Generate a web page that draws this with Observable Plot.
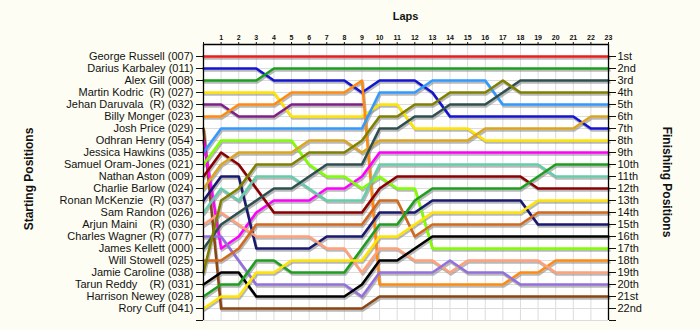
<!DOCTYPE html>
<html><head><meta charset="utf-8">
<script src="https://cdn.jsdelivr.net/npm/d3@7"></script>
<script src="https://cdn.jsdelivr.net/npm/@observablehq/plot@0.6"></script>
<style>
html,body{margin:0;padding:0;background:#fdfdf3;}
#chart svg text{white-space:pre;}
</style></head><body><div id="chart"></div>
<script>
const laps = [0,1,2,3,4,5,6,7,8,9,10,11,12,13,14,15,16,17,18,19,20,21,22,23];
const lapLabels = [1,2,3,4,5,6,7,8,9,10,11,12,13,14,15,16,17,18,19,20,21,22,23];
const posTicks = [1,2,3,4,5,6,7,8,9,10,11,12,13,14,15,16,17,18,19,20,21,22,23];
const finishLabels = ["1st","2nd","3rd","4th","5th","6th","7th","8th","9th","10th","11th","12th","13th","14th","15th","16th","17th","18th","19th","20th","21st","22nd"];
const startNames = ["George Russell (007)","Darius Karbaley (011)","Alex Gill (008)","Martin Kodric  (R) (027)","Jehan Daruvala  (R) (032)","Billy Monger (023)","Josh Price (029)","Odhran Henry (054)","Jessica Hawkins (035)","Samuel Oram-Jones (021)","Nathan Aston (009)","Charlie Barlow (024)","Ronan McKenzie  (R) (037)","Sam Randon (026)","Arjun Maini    (R) (030)","Charles Wagner (R) (077)","James Kellett (000)","Will Stowell (025)","Jamie Caroline (038)","Tarun Reddy    (R) (031)","Harrison Newey (028)","Rory Cuff (041)"];
const colors = ["#ee1c1c","#1414d2","#1e9e1e","#ffe400","#801f88","#ff8a10","#8b4513","#ff00ff","#3399ff","#80ff00","#8b0000","#daa520","#191970","#66cdaa","#ffa07a","#9370db","#2f4f4f","#d2691e","#808000","#000000","#1e9e1e","#ffe400"];

const russell  = [1,1,1,1,1,1,1,1,1,1,1,1,1,1,1,1,1,1,1,1,1,1,1,1];
const karbaley = [2,2,2,2,3,3,3,3,3,4,3,3,3,4,6,6,6,6,6,6,6,6,7,7];
const gill     = [3,3,3,3,2,2,2,2,2,2,2,2,2,2,2,2,2,2,2,2,2,2,2,2];
const kodric   = [4,4,4,4,4,6,6,6,6,6,5,5,7,7,7,7,8,8,8,8,8,8,8,8];
const daruvala = [5,5,6,6,6,5,5,5,5,5];
const monger   = [6,6,5,5,5,4,4,4,4,3,20,20,20,20,20,20,20,20,19,19,18,18,18,18];
const price    = [7,22,22,22,22,22,22,22,22,22,21,21,21,21,21,21,21,21,21,21,21,21,21,21];
const henry    = [8,17,16,14,13,13,13,12,12,11,9,9,9,9,9,9,9,9,9,9,9,9,9,9];
const hawkins  = [9,7,7,7,7,7,7,7,7,7,4,4,4,3,3,3,3,5,5,5,5,5,5,5];
const oramJones= [10,8,8,8,8,8,10,11,11,12,11,12,12,17,17,17,17,17,17,17,17,17,17,17];
const aston    = [11,9,10,12,14,14,14,14,14,14,12,11,11,11,11,11,11,11,11,12,12,12,12,12];
const barlow   = [12,10,9,9,9,9,8,8,8,9,8,8,8,8,8,8,7,7,7,7,7,7,6,6];
const mckenzie = [13,11,11,17,17,17,17,16,16,16,14,14,14,13,13,13,13,13,13,15,15,15,15,15];
const randon   = [14,12,13,11,11,11,12,13,13,13,10,10,10,10,10,10,10,10,10,10,11,11,11,11];
const maini    = [15,14,15,16,16,16,16,17,17,19,17,17,18,18,19,18,18,18,18,18,19,19,19,19];
const wagner   = [16,16,18,20,20,20,20,20,20,21,19,19,19,19,18,19,19,19,20,20,20,20,20,20];
const kellett  = [17,15,14,13,12,12,11,10,10,10,7,7,6,6,5,5,5,4,3,3,3,3,3,3];
const stowell  = [18,18,17,15,15,15,15,15,15,15,13,13,16,15,15,15,15,15,15,14,14,14,14,14];
const caroline = [19,13,12,10,10,10,9,9,9,8,6,6,5,5,4,4,4,3,4,4,4,4,4,4];
const reddy    = [20,19,19,21,21,21,21,21,21,20,18,18,17,16,16,16,16,16,16,16,16,16,16,16];
const newey    = [21,20,20,18,18,19,19,19,19,17,15,15,13,12,12,12,12,12,12,11,10,10,10,10];
const cuff     = [22,21,21,19,19,18,18,18,18,18,16,16,15,14,14,14,14,14,14,13,13,13,13,13];

const series = [russell,karbaley,gill,kodric,daruvala,monger,price,henry,hawkins,oramJones,aston,barlow,mckenzie,randon,maini,wagner,kellett,stowell,caroline,reddy,newey,cuff];

const rows = [];
series.forEach((s, i) => s.forEach((p, j) => rows.push({driver: startNames[i], lap: laps[j], pos: p, color: colors[i]})));

const font = "'Liberation Sans', Arial, Helvetica, sans-serif";
const yMax = posTicks[posTicks.length - 1];
const chart = Plot.plot({
  width: 700, height: 330,
  marginLeft: 203, marginRight: 92, marginTop: 44, marginBottom: 10,
  style: {background: "transparent", fontFamily: font, overflow: "visible", color: "#111"},
  x: {domain: [laps[0], laps[laps.length - 1]]},
  y: {domain: [0, yMax], reverse: true},
  color: {type: "identity"},
  marks: [
    Plot.frame({fill: "white", stroke: null}),
    Plot.gridX(lapLabels, {stroke: "#dcdcdc", strokeOpacity: 1}),
    Plot.gridY(posTicks, {stroke: "#dcdcdc", strokeOpacity: 1}),
    Plot.line(rows, {x: "lap", y: "pos", z: "driver", stroke: "#8a8a8a", strokeWidth: 2.6, dx: 1, dy: 2, strokeOpacity: 0.6}),
    Plot.line(rows, {x: "lap", y: "pos", z: "driver", stroke: "color", strokeWidth: 2.6}),
    Plot.ruleX([laps[0], laps[laps.length - 1]], {stroke: "#000", strokeWidth: 1.3}),
    Plot.ruleY([0], {stroke: "#000", strokeWidth: 1.3}),
    Plot.axisX([laps[0], ...lapLabels], {anchor: "top", tickSize: 3, tickPadding: 2, fontSize: 7, fontWeight: "bold", label: null, tickFormat: d => d === 0 ? "" : d}),
    Plot.axisY(posTicks, {anchor: "left", tickSize: 7, tickPadding: 3, fontSize: 11, label: null, tickFormat: d => startNames[d - 1] ?? ""}),
    Plot.axisY(posTicks, {anchor: "right", tickSize: 7, tickPadding: 2, fontSize: 11, label: null, tickFormat: d => finishLabels[d - 1] ?? ""})
  ]
});
document.getElementById("chart").appendChild(chart);

const sx = chart.scale("x"), sy = chart.scale("y");
const svg = d3.select(chart);
const xMid = (sx.apply(laps[0]) + sx.apply(laps[laps.length - 1])) / 2;
const yMid = (sy.apply(0) + sy.apply(yMax)) / 2;
svg.append("text").attr("x", xMid).attr("y", 20).attr("text-anchor", "middle")
  .attr("font-size", 11).attr("font-weight", "bold").attr("font-family", font).text("Laps");
svg.append("text").attr("transform", `translate(33,${yMid - 3}) rotate(-90)`).attr("text-anchor", "middle")
  .attr("font-size", 12).attr("font-weight", "bold").attr("font-family", font).text("Starting Positions");
svg.append("text").attr("transform", `translate(663,${yMid}) rotate(90)`).attr("text-anchor", "middle")
  .attr("font-size", 12).attr("font-weight", "bold").attr("font-family", font).text("Finishing Positions");
</script></body></html>
